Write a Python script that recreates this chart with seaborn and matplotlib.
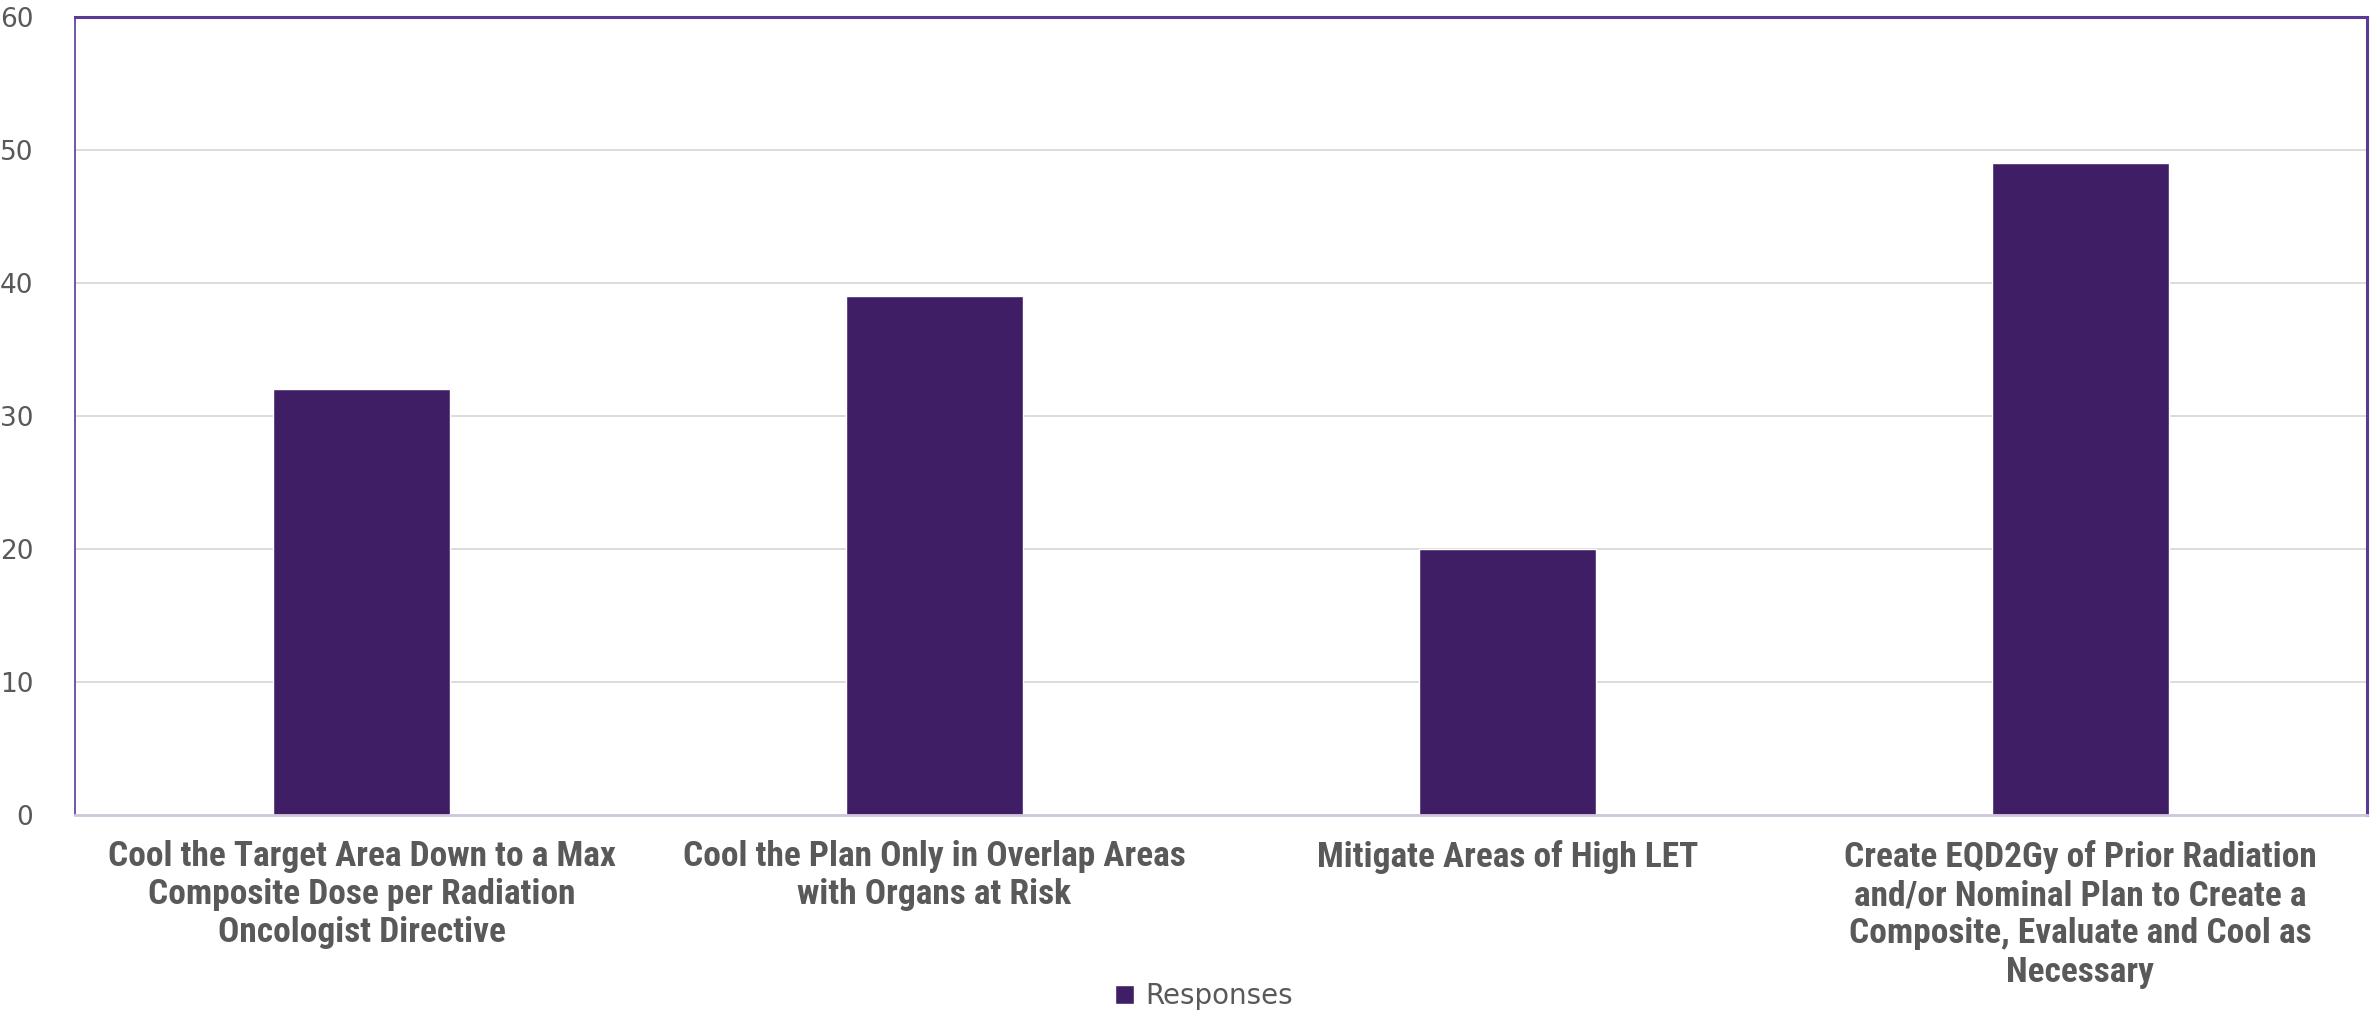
import matplotlib
matplotlib.use("Agg")
import matplotlib.pyplot as plt
import seaborn as sns
import pandas as pd

categories = [
    "Cool the Target Area Down to a Max\nComposite Dose per Radiation\nOncologist Directive",
    "Cool the Plan Only in Overlap Areas\nwith Organs at Risk",
    "Mitigate Areas of High LET",
    "Create EQD2Gy of Prior Radiation\nand/or Nominal Plan to Create a\nComposite, Evaluate and Cool as\nNecessary",
]
responses = [32, 39, 20, 49]
yticks = [0, 10, 20, 30, 40, 50, 60]

bar_color = "#401E66"
frame_color = "#5B3A96"
text_color = "#595959"

sns.set_theme(style="white")
plt.rcParams["font.family"] = ["Roboto Condensed", "Roboto", "DejaVu Sans"]

df = pd.DataFrame({"category": categories, "Responses": responses})

fig = plt.figure(figsize=(23.74, 10.13), dpi=100)
ax = fig.add_axes([0.0316, 0.1955, 0.9654, 0.7875])

sns.barplot(data=df, x="category", y="Responses", color=bar_color,
            width=0.31, saturation=1, label="Responses", ax=ax)
if ax.get_legend() is not None:
    ax.get_legend().remove()

ax.set_ylim(0, 60)
ax.set_yticks(yticks)
ax.set_xlim(-0.5, len(categories) - 0.5)
ax.yaxis.grid(True, color="#D9D9D9", linewidth=1.3)
ax.set_axisbelow(True)
ax.set_xlabel("")
ax.set_ylabel("")

for side in ["left", "top", "right"]:
    ax.spines[side].set_color(frame_color)
ax.spines["left"].set_linewidth(1.2)
ax.spines["top"].set_linewidth(2.2)
ax.spines["right"].set_linewidth(2.2)
ax.spines["bottom"].set_color("#CFC8DC")
ax.spines["bottom"].set_linewidth(2)

ax.tick_params(axis="y", length=0, pad=30, labelsize=19, labelcolor=text_color)
ax.tick_params(axis="x", length=0, pad=18)
for lab in ax.get_yticklabels():
    lab.set_family(["DejaVu Sans"])
for lab in ax.get_xticklabels():
    lab.set_fontsize(25.5)
    lab.set_fontweight("bold")
    lab.set_color(text_color)
    lab.set_linespacing(1.2)

leg = fig.legend(loc="lower center", bbox_to_anchor=(0.507, -0.022), frameon=False,
                 fontsize=20, handlelength=0.7, handleheight=0.7, handletextpad=0.4)
for t in leg.get_texts():
    t.set_color(text_color)
    t.set_family(["DejaVu Sans"])

fig.savefig("out.png", dpi=100)
